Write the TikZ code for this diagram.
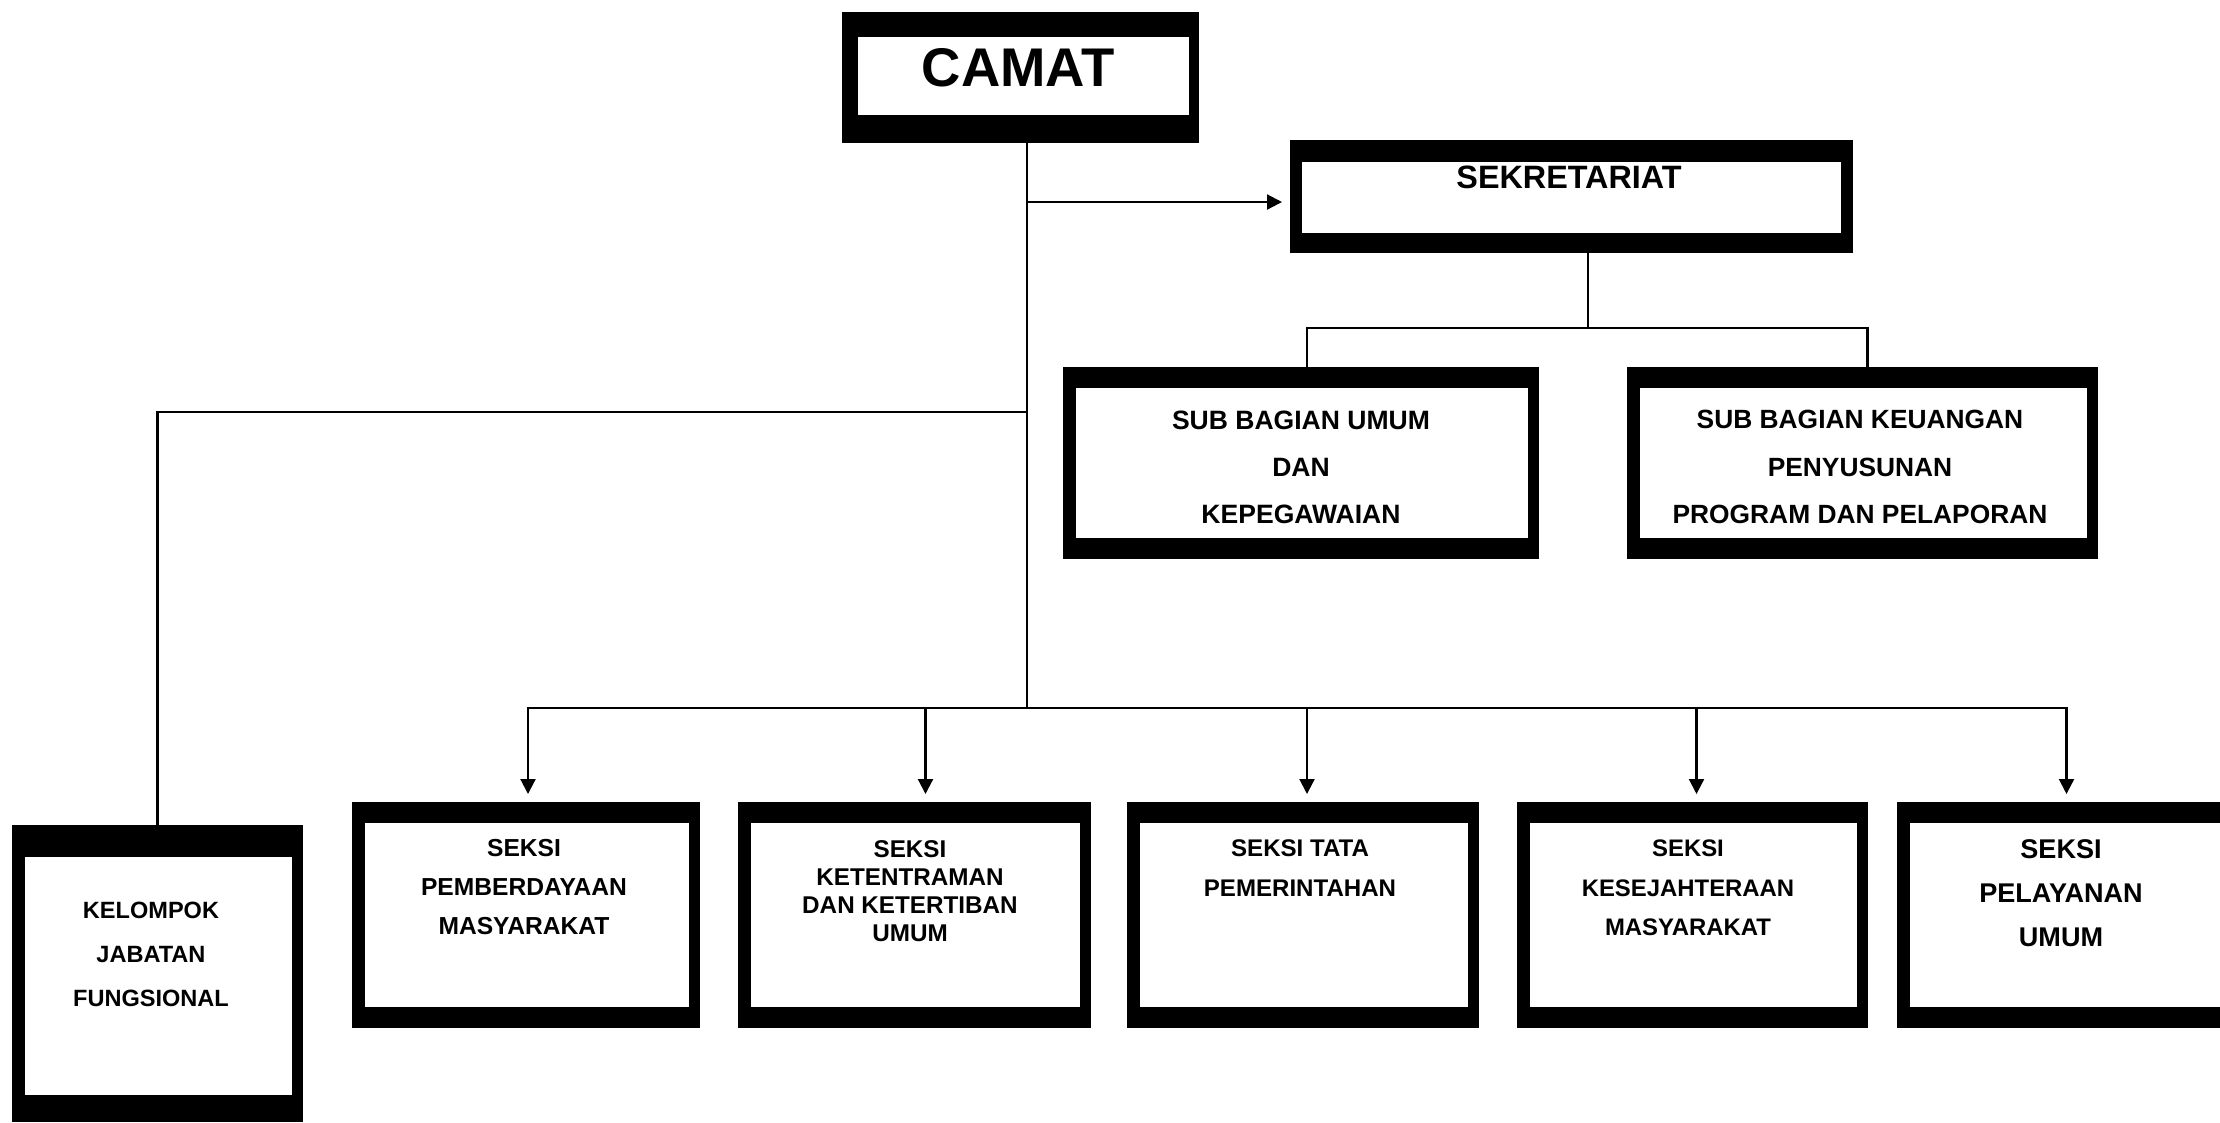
\documentclass[tikz,border=0pt]{standalone}
\usepackage{fontspec}
\setmainfont{Liberation Sans}
\usetikzlibrary{arrows.meta}

\tikzset{
    frame/.style n args={4}{path picture={
        \fill[white] ([shift={(#1,#4)}]path picture bounding box.south west)
            rectangle ([shift={(-#2,-#3)}]path picture bounding box.north east);}},
    unit/.style={rectangle, fill=black, inner sep=0pt, outer sep=0pt, frame={0.13}{0.11}{0.21}{0.21}},
    txt/.style={align=center, inner sep=0pt, text=black},
    link/.style={line width=0.6pt},
    arrow/.style={link, -{Triangle[length=1.5mm,width=1.5mm]}, shorten >=0.8mm}
}

\begin{document}
\begin{tikzpicture}
\useasboundingbox (0,0) rectangle (22.2,-11.22);
\clip (0,0) rectangle (22.2,-11.22);

% Kotak-kotak jabatan
\node[unit, frame={0.16}{0.10}{0.25}{0.28}, minimum width=3.57cm, minimum height=1.31cm] at (10.205,-0.775) (camat) {};
\node[unit, frame={0.12}{0.12}{0.22}{0.20}, minimum width=5.63cm, minimum height=1.13cm] at (15.715,-1.965) (sek) {};
\node[unit, minimum width=4.76cm, minimum height=1.92cm] at (13.01,-4.63)  (umum)    {};
\node[unit, minimum width=4.71cm, minimum height=1.92cm] at (18.625,-4.63) (keu)     {};
\node[unit, frame={0.13}{0.11}{0.32}{0.27}, minimum width=2.91cm, minimum height=2.97cm] at (1.575,-9.735) (kjf) {};
\node[unit, minimum width=3.48cm, minimum height=2.26cm] at (5.26,-9.15)   (pm)      {};
\node[unit, minimum width=3.53cm, minimum height=2.26cm] at (9.145,-9.15)  (trantib) {};
\node[unit, minimum width=3.52cm, minimum height=2.26cm] at (13.03,-9.15)  (tapem)   {};
\node[unit, minimum width=3.51cm, minimum height=2.26cm] at (16.925,-9.15) (kesra)   {};
\node[unit, minimum width=3.43cm, minimum height=2.26cm] at (20.685,-9.15) (pelum)   {};

% Teks
\node[txt, font=\bfseries\fontsize{15.5}{18}\selectfont] at (10.18,-0.68) (camat-t) {CAMAT};
\node[txt, font=\bfseries\fontsize{9.2}{11}\selectfont]  at (15.69,-1.77) (sek-t)   {SEKRETARIAT};
\node[txt, font=\bfseries\fontsize{7.55}{13.4}\selectfont] at (13.01,-4.67) (umum-t) {SUB BAGIAN UMUM\\DAN\\KEPEGAWAIAN};
\node[txt, font=\bfseries\fontsize{7.5}{13.4}\selectfont] at (18.60,-4.67) (keu-t)  {SUB BAGIAN KEUANGAN\\PENYUSUNAN\\PROGRAM DAN PELAPORAN};
\node[txt, font=\bfseries\fontsize{6.7}{12.5}\selectfont] at (1.51,-9.54)  (kjf-t)  {KELOMPOK\\JABATAN\\FUNGSIONAL};
\node[txt, font=\bfseries\fontsize{7.0}{11}\selectfont]   at (5.24,-8.87)  (pm-t)   {SEKSI\\PEMBERDAYAAN\\MASYARAKAT};
\node[txt, font=\bfseries\fontsize{6.9}{8}\selectfont]    at (9.10,-8.91)  (trantib-t) {SEKSI\\KETENTRAMAN\\DAN KETERTIBAN\\UMUM};
\node[txt, font=\bfseries\fontsize{6.85}{11.6}\selectfont] at (13.00,-8.68) (tapem-t) {SEKSI TATA\\PEMERINTAHAN};
\node[txt, font=\bfseries\fontsize{6.8}{11.3}\selectfont] at (16.88,-8.88) (kesra-t) {SEKSI\\KESEJAHTERAAN\\MASYARAKAT};
\node[txt, font=\bfseries\fontsize{7.7}{12.5}\selectfont] at (20.61,-8.93) (pelum-t) {SEKSI\\PELAYANAN\\UMUM};

% Titik cabang
\coordinate (sekjoint) at (10.27,-2.02);
\coordinate (kjfjoint) at (10.27,-4.12);
\coordinate (bus)      at (10.27,-7.08);
\coordinate (seksplit) at (15.88,-3.28);

% Garis
\draw[link] (camat.south -| bus) -- (bus);
\draw[arrow] (sekjoint) -- (sekjoint -| sek.west);
\draw[link] (kjfjoint) -| (kjf);
\draw[link] (sek.south -| seksplit) -- (seksplit);
\draw[link] (seksplit) -| ([xshift=0.06cm]umum.north);
\draw[link] (seksplit) -| ([xshift=0.05cm]keu.north);
\foreach \n/\dx in {pm/0.02, trantib/0.11, tapem/0.04, kesra/0.04, pelum/-0.02}
    \draw[arrow] (bus) -| ([xshift=\dx cm]\n.north);
\end{tikzpicture}
\end{document}
